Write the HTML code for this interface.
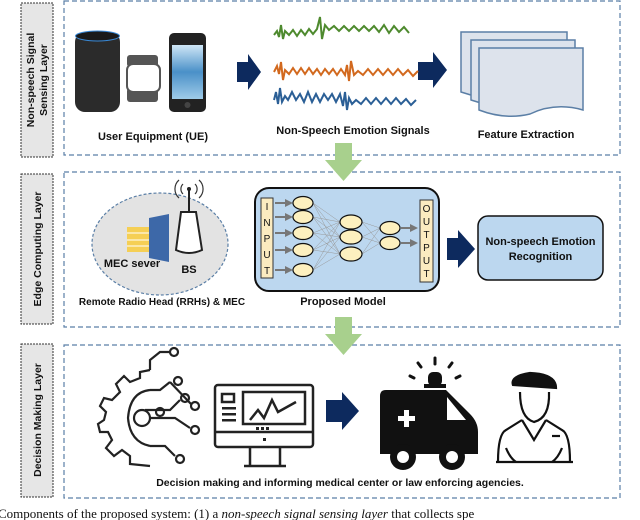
<!DOCTYPE html>
<html><head><meta charset="utf-8"><style>
html,body{margin:0;padding:0;background:#fff;}
svg{display:block;}
text{font-family:"Liberation Sans",Arial,sans-serif;font-weight:bold;fill:#111;}
</style></head><body>
<svg width="640" height="520" viewBox="0 0 640 520" xmlns="http://www.w3.org/2000/svg">
<defs>
<marker id="ga" markerWidth="4" markerHeight="4" refX="2" refY="2" orient="auto"><path d="M0,0 L4,2 L0,4 z" fill="#777"/></marker>
<linearGradient id="scr" x1="0" y1="0" x2="0" y2="1"><stop offset="0" stop-color="#cfe6f6"/><stop offset="0.5" stop-color="#4a90c8"/><stop offset="1" stop-color="#9fcbe8"/></linearGradient>
</defs>
<g fill="#e6e6e6" stroke="#333" stroke-width="1" stroke-dasharray="2,1">
<rect x="21" y="3" width="32" height="154"/>
<rect x="21" y="174" width="32" height="150"/>
<rect x="21" y="344" width="32" height="153"/>
</g>
<g font-size="10.5">
<text transform="translate(34,80) rotate(-90)" text-anchor="middle">Non-speech Signal</text>
<text transform="translate(47,80) rotate(-90)" text-anchor="middle">Sensing Layer</text>
<text transform="translate(41,249) rotate(-90)" text-anchor="middle">Edge Computing Layer</text>
<text transform="translate(41,420) rotate(-90)" text-anchor="middle">Decision Making Layer</text>
</g>
<g fill="none" stroke="#5b7fa6" stroke-width="1.2" stroke-dasharray="5,3">
<rect x="64" y="1" width="556" height="154"/>
<rect x="64" y="172" width="556" height="155"/>
<rect x="64" y="345" width="556" height="153"/>
</g>
<g fill="#a8d08d">
<path d="M335,143 H352 V160 H362 L343.5,181 L325,160 H335 z"/>
<path d="M335,317 H352 V334 H362 L343.5,355 L325,334 H335 z"/>
</g>
<rect x="75" y="32" width="45" height="80" rx="10" fill="#2b2b2b"/>
<ellipse cx="97.5" cy="36" rx="22" ry="5" fill="#1a1a1a" stroke="#3a8ad8" stroke-width="1"/>
<rect x="127" y="55" width="31" height="12" rx="3" fill="#555"/>
<rect x="127" y="88" width="31" height="14" rx="3" fill="#555"/>
<rect x="127" y="64" width="33" height="28" rx="6" fill="#fff" stroke="#555" stroke-width="2"/>
<rect x="169" y="33" width="37" height="79" rx="5" fill="#222"/>
<rect x="172" y="45" width="31" height="54" fill="url(#scr)"/>
<circle cx="187.5" cy="105" r="3" fill="#444"/>
<g fill="#0d2a5e">
<path d="M237,62 H248 V54 L261,72 L248,90 V82 H237 z"/>
<path d="M418,62 H433 V52 L447,70 L433,88 V80 H418 z"/>
<path d="M447,238 H458 V230 L475,249 L458,268 V260 H447 z"/>
<path d="M326,400 H342 V392 L359,411 L342,430 V422 H326 z"/>
</g>
<g fill="none" stroke-width="2">
<path stroke="#4e8a2e" d="M274,35 l3,-4 l2,6 l2,-12 l2,14 l2,-8 l4,4 l4,-5 l4,6 l4,-6 l4,5 l4,-6 l4,5 l4,-5 l3,-12 l2,22 l3,-14 l4,5 l5,-4 l5,5 l5,-5 l5,5 l5,-5 l5,5 l5,-5 l5,5 l5,-5 l5,6 l5,-7 l5,8 l5,-7 l5,6 l5,-5 l5,6"/>
<path stroke="#d2691e" d="M274,72 l3,-6 l2,8 l2,-12 l2,18 l2,-10 l4,4 l4,-6 l4,6 l4,-6 l4,6 l4,-6 l4,6 l4,-5 l4,6 l4,-6 l4,5 l4,-5 l4,6 l4,-6 l4,6 l2,-10 l2,16 l2,-20 l3,14 l4,-4 l5,4 l5,-6 l5,6 l5,-6 l5,6 l5,-6 l5,6 l5,-6 l5,6 l5,-5 l5,6 l5,-5"/>
<path stroke="#2b5f96" d="M274,100 l2,-8 l2,12 l2,-16 l2,14 l3,-6 l3,4 l4,-8 l4,8 l4,-6 l4,8 l4,-10 l4,10 l4,-8 l4,8 l4,-8 l4,6 l4,-6 l4,8 l4,-8 l3,12 l2,-14 l2,18 l2,-12 l3,6 l4,-4 l5,4 l5,-6 l5,6 l5,-6 l5,6 l5,-6 l5,6 l5,-6 l5,6 l5,-5 l5,6 l5,-5"/>
</g>
<g stroke="#5b7fa6" stroke-width="1.5" fill="#dde3ec">
<path d="M461,32 H567 V92 Q540,84 515,96 Q490,102 461,92 z"/>
<path d="M471,40 H575 V100 Q550,92 525,104 Q500,110 471,100 z"/>
<path d="M479,48 H583 V110 Q555,102 530,114 Q505,120 479,110 z"/>
</g>
<g font-size="11" text-anchor="middle">
<text x="153" y="140">User Equipment (UE)</text>
<text x="353" y="134">Non-Speech Emotion Signals</text>
<text x="526" y="138">Feature Extraction</text>
</g>
<ellipse cx="160" cy="244" rx="68" ry="51" fill="#e3e3e3" stroke="#5b7fa6" stroke-width="1.2" stroke-dasharray="3,2"/>
<rect x="127" y="227" width="24" height="25" fill="#f5cf55"/>
<g stroke="#fff" stroke-width="1"><line x1="127" y1="233" x2="151" y2="233"/><line x1="127" y1="240" x2="151" y2="240"/><line x1="127" y1="246" x2="151" y2="246"/></g>
<path d="M149,218 L169,214 V262 L149,258 z" fill="#3d68a8"/>
<path d="M181,212 H196 L202,250 Q189,256 176,250 z" fill="#fff" stroke="#222" stroke-width="2"/>
<line x1="189" y1="212" x2="189" y2="190" stroke="#222" stroke-width="2"/>
<g fill="none" stroke="#333" stroke-width="1.2"><path d="M183,184 a7,7 0 0 0 0,10"/><path d="M195,184 a7,7 0 0 1 0,10"/><path d="M179,180 a12,12 0 0 0 0,18"/><path d="M199,180 a12,12 0 0 1 0,18"/></g>
<circle cx="189" cy="189" r="2" fill="#222"/>
<g font-size="11" text-anchor="middle">
<text x="132" y="267">MEC sever</text>
<text x="189" y="273">BS</text>
<text x="162" y="305" font-size="10">Remote Radio Head (RRHs) &amp; MEC</text>
<text x="343" y="305">Proposed Model</text>
</g>
<rect x="255" y="188" width="184" height="103" rx="14" fill="#bcd7ef" stroke="#111" stroke-width="2"/>
<rect x="261" y="198" width="12" height="80" fill="#fbebc0" stroke="#333"/>
<rect x="420" y="200" width="13" height="82" fill="#fbebc0" stroke="#333"/>
<g font-size="10" text-anchor="middle" style="font-weight:normal">
<text x="267" y="210" style="font-weight:normal">I</text><text x="267" y="226" style="font-weight:normal">N</text><text x="267" y="242" style="font-weight:normal">P</text><text x="267" y="258" style="font-weight:normal">U</text><text x="267" y="274" style="font-weight:normal">T</text>
<text x="426.5" y="212" style="font-weight:normal">O</text><text x="426.5" y="225" style="font-weight:normal">U</text><text x="426.5" y="238" style="font-weight:normal">T</text><text x="426.5" y="251" style="font-weight:normal">P</text><text x="426.5" y="264" style="font-weight:normal">U</text><text x="426.5" y="277" style="font-weight:normal">T</text>
</g>
<g stroke="#999" stroke-width="0.5">
<path d="M313,203 L340,222 M313,203 L340,237 M313,203 L340,254 M313,217 L340,222 M313,217 L340,237 M313,217 L340,254 M313,233 L340,222 M313,233 L340,237 M313,233 L340,254 M313,250 L340,222 M313,250 L340,237 M313,250 L340,254 M313,270 L340,222 M313,270 L340,237 M313,270 L340,254 M362,222 L380,228 M362,222 L380,243 M362,237 L380,228 M362,237 L380,243 M362,254 L380,228 M362,254 L380,243"/>
</g>
<g stroke="#777" stroke-width="2" marker-end="url(#ga)">
<line x1="275" y1="203" x2="289" y2="203"/><line x1="275" y1="217" x2="289" y2="217"/><line x1="275" y1="233" x2="289" y2="233"/><line x1="275" y1="250" x2="289" y2="250"/><line x1="275" y1="270" x2="289" y2="270"/>
<line x1="401" y1="228" x2="414" y2="228"/><line x1="401" y1="243" x2="414" y2="243"/>
</g>
<g fill="#fdf0bf" stroke="#111" stroke-width="1.2">
<ellipse cx="303" cy="203" rx="10" ry="6.5"/><ellipse cx="303" cy="217" rx="10" ry="6.5"/><ellipse cx="303" cy="233" rx="10" ry="6.5"/><ellipse cx="303" cy="250" rx="10" ry="6.5"/><ellipse cx="303" cy="270" rx="10" ry="6.5"/>
<ellipse cx="351" cy="222" rx="11" ry="7"/><ellipse cx="351" cy="237" rx="11" ry="7"/><ellipse cx="351" cy="254" rx="11" ry="7"/>
<ellipse cx="390" cy="228" rx="10" ry="6.5"/><ellipse cx="390" cy="243" rx="10" ry="6.5"/>
</g>
<rect x="478" y="216" width="125" height="64" rx="10" fill="#bcd7ef" stroke="#111" stroke-width="1.5"/>
<text x="540.5" y="245" font-size="11" text-anchor="middle">Non-speech Emotion</text>
<text x="540.5" y="260" font-size="11" text-anchor="middle">Recognition</text>
<g fill="none" stroke="#222" stroke-width="2.2">
<path d="M150,370 L140,372 L140,378 L130,382 L124,376 L116,384 L120,392 L112,400 L104,398 L100,406 L106,412 L104,420 L98,424 L100,432 L108,432 L112,440 L106,448 L114,456 L122,450 L130,456 L130,464 L150,466"/>
<path d="M150,390 Q130,392 128,418 Q130,442 150,446"/>
<circle cx="142" cy="418" r="8"/>
<path d="M150,370 V360 L160,352 H170"/><circle cx="174" cy="352" r="4"/>
<path d="M150,390 H160 L170,382"/><circle cx="178" cy="381" r="4"/><circle cx="195" cy="406" r="4"/><path d="M170,382 L191,404"/>
<path d="M145,410 H170 L180,400"/><circle cx="185" cy="398" r="4"/>
<path d="M150,418 H175 L190,428"/><circle cx="195" cy="430" r="4"/>
<path d="M150,446 H165 L175,456"/><circle cx="180" cy="459" r="4"/>
<circle cx="160" cy="412" r="4"/>
</g>
<g fill="none" stroke="#222" stroke-width="2.5">
<rect x="215" y="385" width="98" height="62" rx="3"/>
<line x1="215" y1="432" x2="313" y2="432"/>
<rect x="243" y="392" width="62" height="32"/>
<rect x="222" y="394" width="12" height="8"/>
<path d="M250,420 L258,410 L264,418 L272,400 L278,412 L296,402"/>
<path d="M250,447 V466 M280,447 V466 M244,466 H286"/>
</g>
<g fill="#222"><rect x="222" y="407" width="14" height="2.5"/><rect x="222" y="413" width="14" height="2.5"/><rect x="222" y="419" width="14" height="2.5"/><rect x="256" y="427" width="3" height="3"/><rect x="261" y="427" width="3" height="3"/><rect x="266" y="427" width="3" height="3"/><rect x="263" y="438" width="3" height="3"/></g>
<path d="M380,396 Q380,390 386,390 H446 L470,414 Q478,422 478,432 V454 H380 z" fill="#111"/>
<path d="M447,397 L466,420 H447 z" fill="#fff"/>
<rect x="404" y="410" width="5" height="17" fill="#fff"/><rect x="398" y="416" width="17" height="5" fill="#fff"/>
<circle cx="403" cy="457" r="13" fill="#111"/><circle cx="403" cy="457" r="6" fill="#fff"/>
<circle cx="452" cy="457" r="13" fill="#111"/><circle cx="452" cy="457" r="6" fill="#fff"/>
<rect x="428" y="372" width="14" height="14" rx="5" fill="#111"/><rect x="424" y="384" width="22" height="4" fill="#111"/>
<g stroke="#111" stroke-width="3" stroke-linecap="round"><line x1="435" y1="358" x2="435" y2="364"/><line x1="418" y1="363" x2="421" y2="367"/><line x1="452" y1="363" x2="449" y2="367"/><line x1="410" y1="376" x2="414" y2="378"/><line x1="460" y1="376" x2="456" y2="378"/></g>
<g fill="none" stroke="#111" stroke-width="2.2">
<path d="M513,385 Q510,376 530,373 Q556,374 556,388 Z" fill="#111"/>
<path d="M520,392 Q520,418 534,422 Q550,418 549,392"/>
<path d="M522,420 L506,430 Q498,434 498,462 M546,420 L562,430 Q570,434 570,462"/>
<path d="M522,420 L534,440 L546,420"/>
<line x1="496" y1="462" x2="573" y2="462"/>
<line x1="552" y1="436" x2="560" y2="436"/>
<path d="M506,448 Q510,458 516,462 M562,448 Q558,458 552,462"/>
</g>
<text x="340" y="486" font-size="10.5" text-anchor="middle">Decision making and informing medical center or law enforcing agencies.</text>
<text x="-2" y="518" font-size="13" style="font-family:'Liberation Serif',serif;font-weight:normal">Components of the proposed system: (1) a <tspan font-style="italic">non-speech signal sensing layer</tspan> that collects spe</text>
</svg>
</body></html>
